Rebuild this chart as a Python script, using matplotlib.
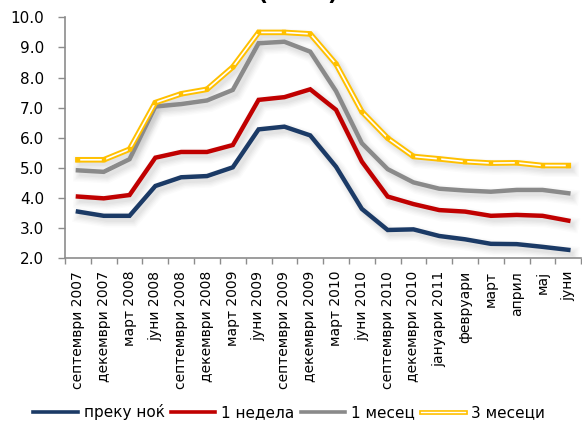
import numpy as np
import matplotlib
matplotlib.use("Agg")
import matplotlib.pyplot as plt
import matplotlib.patheffects as pe
from matplotlib.lines import Line2D

plt.rcParams['font.family'] = ['DejaVu Sans']

periods = ["септември 2007", "декември 2007", "март 2008", "јуни 2008",
           "септември 2008", "декември 2008", "март 2009", "јуни 2009",
           "септември 2009", "декември 2009", "март 2010", "јуни 2010",
           "септември 2010", "декември 2010", "јануари 2011", "февруари",
           "март", "април", "мај", "јуни"]

overnight = [3.55, 3.41, 3.41, 4.40, 4.69, 4.73, 5.02, 6.28, 6.37, 6.08,
             5.04, 3.64, 2.94, 2.96, 2.74, 2.63, 2.48, 2.47, 2.38, 2.28]
one_week = [4.05, 3.99, 4.10, 5.34, 5.53, 5.53, 5.76, 7.26, 7.35, 7.61,
            6.93, 5.21, 4.05, 3.80, 3.60, 3.55, 3.41, 3.44, 3.41, 3.25]
one_month = [4.92, 4.87, 5.29, 7.04, 7.12, 7.24, 7.59, 9.14, 9.19, 8.86,
             7.55, 5.82, 4.96, 4.52, 4.31, 4.25, 4.21, 4.27, 4.27, 4.16]
three_months = [5.27, 5.27, 5.62, 7.17, 7.46, 7.61, 8.35, 9.50, 9.50, 9.45,
                8.45, 6.87, 5.99, 5.38, 5.30, 5.21, 5.16, 5.17, 5.08, 5.08]

series_names = ["преку ноќ", "1 недела", "1 месец", "3 месеци"]

NAVY = "#1B3A66"
RED = "#C00000"
GREY = "#8A8A8A"
GOLD = "#FFC000"
AXIS = "#8C8C8C"

fig = plt.figure(figsize=(5.82, 4.23), dpi=100)
ax = fig.add_axes([0.1117, 0.3894, 0.887, 0.5696])

x = np.arange(len(periods))

# soft drop shadow under each line
shadow = [pe.SimpleLineShadow(offset=(2.2, -2.8), shadow_color="#8c8c8c",
                              alpha=a, linewidth=w)
          for w, a in ((11, 0.03), (9, 0.04), (7, 0.05), (5, 0.06), (3, 0.07))]

ax.plot(x, overnight, color=NAVY, lw=3.2, solid_joinstyle="miter",
        path_effects=shadow + [pe.Normal()], zorder=3)
ax.plot(x, one_week, color=RED, lw=3.2, solid_joinstyle="miter",
        path_effects=shadow + [pe.Normal()], zorder=3)
ax.plot(x, one_month, color=GREY, lw=3.2, solid_joinstyle="miter",
        path_effects=shadow + [pe.Normal()], zorder=3)
# 3-month series: gold double line with small square point markers
ax.plot(x, three_months, color="white", lw=1.2, solid_joinstyle="miter",
        path_effects=shadow + [pe.Stroke(linewidth=4.0, foreground=GOLD),
                               pe.Normal()], zorder=4)
ax.plot(x, three_months, linestyle="none", marker="s", markersize=3.0,
        markerfacecolor=GOLD, markeredgecolor=GOLD, markeredgewidth=0.3,
        zorder=5)

ax.set_xlim(-0.5, len(periods) - 0.5)
ax.set_ylim(2.0, 10.0)
ax.set_yticks(np.arange(2.0, 10.01, 1.0))
ax.set_yticklabels([f"{v:.1f}" for v in np.arange(2.0, 10.01, 1.0)])

ax.set_xticks(np.arange(-0.5, len(periods)), minor=False)
ax.set_xticklabels([])
ax.set_xticks(x, minor=True)
ax.set_xticklabels(periods, minor=True, rotation=90, fontsize=10)
ax.tick_params(axis="x", which="minor", length=0, pad=9)
ax.tick_params(axis="x", which="major", length=4, width=1, color=AXIS,
               direction="out")
ax.tick_params(axis="y", length=5, width=1, color=AXIS, direction="out",
               labelsize=11, pad=10)

for side in ("top", "right"):
    ax.spines[side].set_visible(False)
for side in ("left", "bottom"):
    ax.spines[side].set_color(AXIS)
    ax.spines[side].set_linewidth(1.2)

handles = [
    Line2D([], [], color=NAVY, lw=2.6),
    Line2D([], [], color=RED, lw=2.6),
    Line2D([], [], color=GREY, lw=2.6),
    Line2D([], [], color="white", lw=1.0,
           path_effects=[pe.Stroke(linewidth=3.4, foreground=GOLD), pe.Normal()]),
]
fig.legend(handles, series_names, loc="center", bbox_to_anchor=(0.497, 0.026),
           ncol=4, frameon=False, fontsize=11, handlelength=2.9,
           handletextpad=0.4, columnspacing=0.4, borderaxespad=0)

fig.text(0.512, 1.0, "(во %)", ha="center", va="baseline",
         fontsize=16, fontweight="bold")

fig.savefig("out.png", dpi=100)
